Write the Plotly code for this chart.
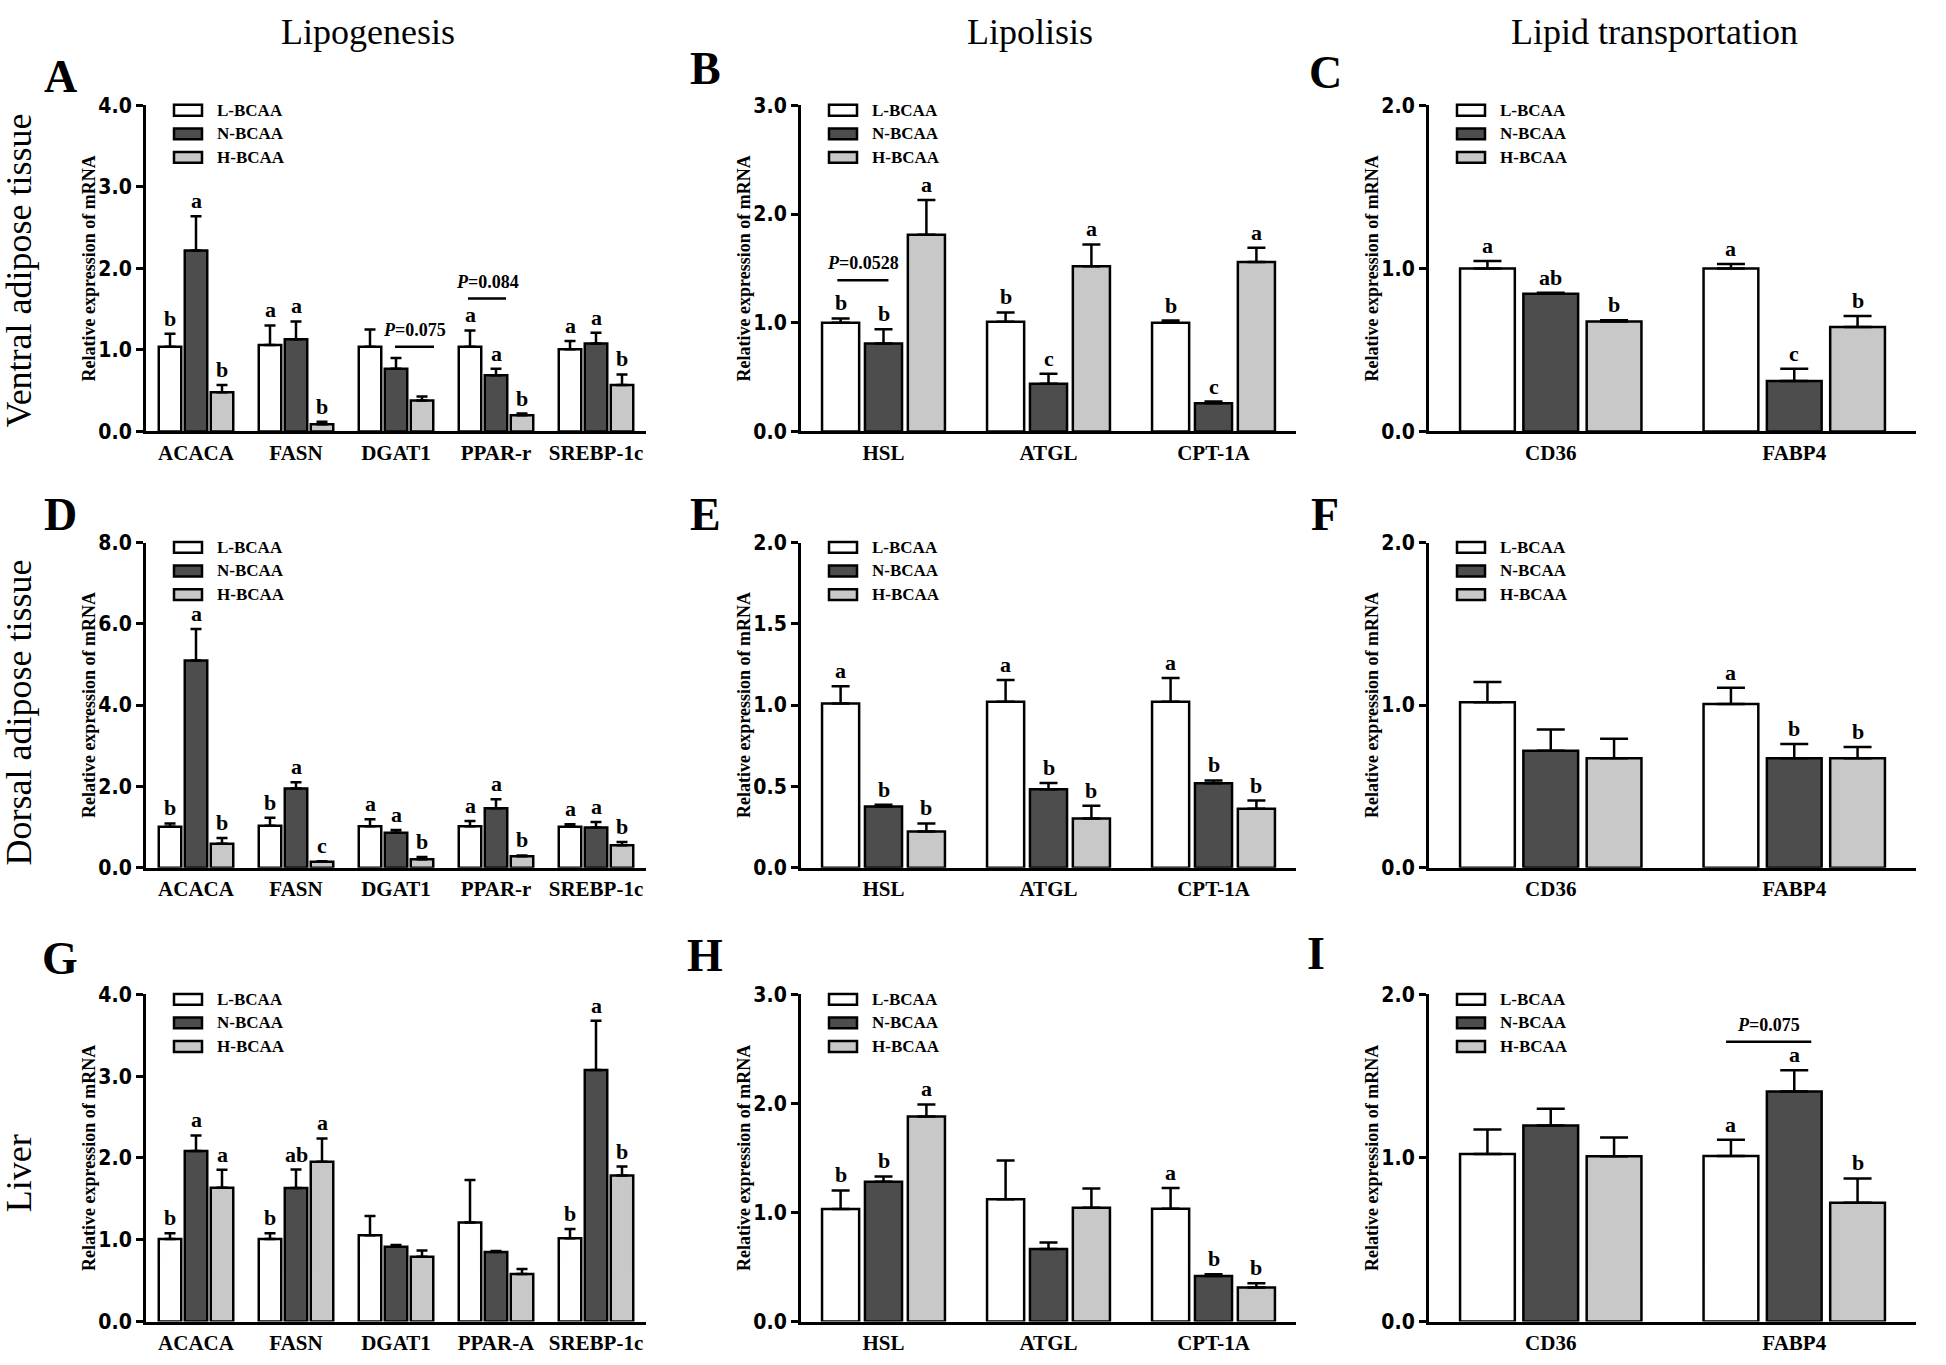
import plotly.graph_objects as go

W, H = 1946, 1365

# ---------------- data ----------------
GROUPS = ["L-BCAA", "N-BCAA", "H-BCAA"]
LIPO_CATS = ["ACACA", "FASN", "DGAT1", "PPAR-r", "SREBP-1c"]
LIVER_LIPO_CATS = ["ACACA", "FASN", "DGAT1", "PPAR-A", "SREBP-1c"]
LIPOL_CATS = ["HSL", "ATGL", "CPT-1A"]
TRANS_CATS = ["CD36", "FABP4"]

A_MEAN = [[1.04, 1.06, 1.04, 1.04, 1.01], [2.22, 1.13, 0.77, 0.69, 1.08], [0.48, 0.09, 0.38, 0.20, 0.57]]
A_SEM = [[0.16, 0.24, 0.21, 0.20, 0.10], [0.42, 0.22, 0.13, 0.08, 0.13], [0.09, 0.03, 0.05, 0.02, 0.13]]
A_SIG = [["b", "a", "", "a", "a"], ["a", "a", "", "a", "a"], ["b", "b", "", "b", "b"]]

B_MEAN = [[1.00, 1.01, 1.00], [0.81, 0.44, 0.26], [1.81, 1.52, 1.56]]
B_SEM = [[0.04, 0.085, 0.02], [0.13, 0.09, 0.015], [0.32, 0.20, 0.13]]
B_SIG = [["b", "b", "b"], ["b", "c", "c"], ["a", "a", "a"]]

C_MEAN = [[1.00, 1.00], [0.845, 0.31], [0.675, 0.64]]
C_SEM = [[0.045, 0.027], [0.005, 0.075], [0.007, 0.068]]
C_SIG = [["a", "a"], ["ab", "c"], ["b", "b"]]

D_MEAN = [[1.01, 1.03, 1.02, 1.02, 1.005], [5.10, 1.95, 0.86, 1.46, 0.99], [0.59, 0.145, 0.21, 0.28, 0.55]]
D_SEM = [[0.08, 0.20, 0.17, 0.13, 0.065], [0.77, 0.15, 0.07, 0.225, 0.135], [0.14, 0.015, 0.055, 0.02, 0.08]]
D_SIG = [["b", "b", "a", "a", "a"], ["a", "a", "a", "a", "a"], ["b", "c", "b", "b", "b"]]

E_MEAN = [[1.01, 1.02, 1.02], [0.377, 0.483, 0.519], [0.222, 0.303, 0.363]]
E_SEM = [[0.106, 0.134, 0.146], [0.01, 0.038, 0.018], [0.05, 0.078, 0.05]]
E_SIG = [["a", "a", "a"], ["b", "b", "b"], ["b", "b", "b"]]

F_MEAN = [[1.017, 1.007], [0.72, 0.673], [0.673, 0.673]]
F_SEM = [[0.125, 0.10], [0.13, 0.087], [0.12, 0.07]]
F_SIG = [["", "a"], ["", "b"], ["", "b"]]

G_MEAN = [[1.01, 1.01, 1.055, 1.21, 1.02], [2.086, 1.633, 0.915, 0.85, 3.077], [1.637, 1.954, 0.794, 0.582, 1.785]]
G_SEM = [[0.07, 0.07, 0.237, 0.52, 0.112], [0.19, 0.225, 0.02, 0.013, 0.60], [0.22, 0.285, 0.076, 0.06, 0.11]]
G_SIG = [["b", "b", "", "", "b"], ["a", "ab", "", "", "a"], ["a", "a", "", "", "b"]]

H_MEAN = [[1.032, 1.122, 1.035], [1.281, 0.666, 0.417], [1.881, 1.044, 0.312]]
H_SEM = [[0.17, 0.354, 0.19], [0.05, 0.06, 0.018], [0.11, 0.177, 0.04]]
H_SIG = [["b", "", "a"], ["b", "", "b"], ["a", "", "b"]]

I_MEAN = [[1.024, 1.012], [1.198, 1.406], [1.01, 0.727]]
I_SEM = [[0.15, 0.10], [0.103, 0.13], [0.115, 0.148]]
I_SIG = [["", "a"], ["", "a"], ["", "b"]]

Y_MAX = {"A": 4, "B": 3, "C": 2, "D": 8, "E": 2, "F": 2, "G": 4, "H": 3, "I": 2}
Y_STEP = {"A": 1, "B": 1, "C": 1, "D": 2, "E": 0.5, "F": 1, "G": 1, "H": 1, "I": 1}

# (panel, category index, line start offset, line end offset, line y, p-value)
P_NOTES = [
    ("A", 2, -0.01, 0.38, 1.04, "0.075"),
    ("A", 3, -0.28, 0.10, 1.63, "0.084"),
    ("B", 0, -0.28, 0.03, 1.39, "0.0528"),
    ("I", 1, -0.28, 0.07, 1.71, "0.075"),
]

COL_TITLES = ["Lipogenesis", "Lipolisis", "Lipid transportation"]
ROW_TITLES = ["Ventral adipose tissue", "Dorsal adipose tissue", "Liver"]
Y_TITLE = "Relative expression of mRNA"

# ---------------- styling / layout ----------------
FILLS = ["#ffffff", "#4d4d4d", "#c8c8c8"]
SERIF = "Liberation Serif, Times New Roman, serif"
SANS = "Liberation Sans Narrow, Arial Narrow, DejaVu Sans Condensed, Liberation Sans, Arial, sans-serif"

COLS = [(146, 646), (801, 1296), (1429, 1916)]
ROWS = [(95, 427), (540, 871), (1000, 1333)]
CAP = [5.5, 9, 14]
BARGAP = 0.22
SLOT = (1 - BARGAP) / 3

PANELS = [
    ("A", LIPO_CATS, A_MEAN, A_SEM, A_SIG),
    ("B", LIPOL_CATS, B_MEAN, B_SEM, B_SIG),
    ("C", TRANS_CATS, C_MEAN, C_SEM, C_SIG),
    ("D", LIPO_CATS, D_MEAN, D_SEM, D_SIG),
    ("E", LIPOL_CATS, E_MEAN, E_SEM, E_SIG),
    ("F", TRANS_CATS, F_MEAN, F_SEM, F_SIG),
    ("G", LIVER_LIPO_CATS, G_MEAN, G_SEM, G_SIG),
    ("H", LIPOL_CATS, H_MEAN, H_SEM, H_SIG),
    ("I", TRANS_CATS, I_MEAN, I_SEM, I_SIG),
]

LETTER_POS = {"A": (60, 66), "B": (705, 58), "C": (1325, 62),
              "D": (60, 512), "E": (705, 512), "F": (1325, 512),
              "G": (60, 963), "H": (705, 960), "I": (1316, 958)}


def fx(px):
    return px / W


def fy(py):
    return 1 - py / H


fig = go.Figure()
layout = dict(
    width=W, height=H, margin=dict(l=0, r=0, t=0, b=0),
    paper_bgcolor="white", plot_bgcolor="white",
    barmode="group", bargap=BARGAP, bargroupgap=0.135,
    showlegend=False,
)
annotations = []
shapes = []

for idx, (name, cats, means, sems, sigs) in enumerate(PANELS):
    r, c = divmod(idx, 3)
    k = idx + 1
    xs = "x" if k == 1 else f"x{k}"
    ys = "y" if k == 1 else f"y{k}"
    x0, x1 = COLS[c]
    y0, y1 = ROWS[r]
    n = len(cats)
    for s in range(3):
        fig.add_trace(go.Bar(
            x=cats, y=means[s], name=GROUPS[s], xaxis=xs, yaxis=ys,
            marker=dict(color=FILLS[s], line=dict(color="black", width=2.5)),
            error_y=dict(type="data", array=sems[s], arrayminus=[0] * n, symmetric=False,
                         color="black", thickness=2.5, width=CAP[c]),
            showlegend=False, hoverinfo="skip",
        ))
        for i in range(n):
            if sigs[s][i]:
                annotations.append(dict(
                    x=i + (s - 1) * SLOT, y=means[s][i] + sems[s][i], xref=xs, yref=ys,
                    text=f"<b>{sigs[s][i]}</b>", showarrow=False, yanchor="bottom", yshift=1,
                    font=dict(family=SERIF, size=22, color="black")))
    ymax = Y_MAX[name]
    step = Y_STEP[name]
    tv = [round(j * step, 3) for j in range(int(round(ymax / step)) + 1)]
    layout["xaxis" if k == 1 else f"xaxis{k}"] = dict(
        domain=[fx(x0), fx(x1)], anchor=ys, type="category", range=[-0.5, n - 0.5],
        showline=True, linecolor="black", linewidth=3, ticks="", showgrid=False, zeroline=False,
        tickfont=dict(family=SERIF, size=21, color="black", weight="bold"), fixedrange=True)
    layout["yaxis" if k == 1 else f"yaxis{k}"] = dict(
        domain=[fy(y1), fy(y0)], anchor=xs, range=[0, ymax], tickvals=tv, tickformat=".1f",
        showline=True, linecolor="black", linewidth=3, ticks="outside", ticklen=7, tickwidth=2.5,
        tickcolor="black", showgrid=False, zeroline=False,
        tickfont=dict(family=SANS, size=21, color="black", weight="bold"), fixedrange=True)
    # y title
    annotations.append(dict(
        x=fx(x0 - 57), y=fy((y0 + y1) / 2), xref="paper", yref="paper", text=f"<b>{Y_TITLE}</b>",
        textangle=-90, showarrow=False, xanchor="center", yanchor="middle",
        font=dict(family=SERIF, size=18, color="black")))
    # legend
    for s in range(3):
        ry = y0 + 5 + 24 * s
        shapes.append(dict(type="rect", xref="paper", yref="paper",
                           x0=fx(x0 + 28), x1=fx(x0 + 56), y0=fy(ry + 5.5), y1=fy(ry - 5.5),
                           fillcolor=FILLS[s], line=dict(color="black", width=2.5)))
        annotations.append(dict(
            x=fx(x0 + 69), y=fy(ry), xref="paper", yref="paper", text=f"<b>{GROUPS[s]}</b>",
            showarrow=False, xanchor="left", yanchor="middle",
            font=dict(family=SERIF, size=17, color="black")))
    # panel letter
    lx, ly = LETTER_POS[name]
    annotations.append(dict(
        x=fx(lx), y=fy(ly), xref="paper", yref="paper", text=f"<b>{name}</b>",
        showarrow=False, xanchor="center", yanchor="middle",
        font=dict(family=SERIF, size=46, color="black")))

# p-value brackets
pidx = {p[0]: i + 1 for i, p in enumerate(PANELS)}
for (name, ci, a, b, ly, pv) in P_NOTES:
    k = pidx[name]
    xs = "x" if k == 1 else f"x{k}"
    ys = "y" if k == 1 else f"y{k}"
    shapes.append(dict(type="line", xref=xs, yref=ys, x0=ci + a, x1=ci + b, y0=ly, y1=ly,
                       line=dict(color="black", width=2.5)))
    annotations.append(dict(
        x=ci + (a + b) / 2, y=ly, xref=xs, yref=ys, text=f"<b><i>P</i>={pv}</b>",
        showarrow=False, yanchor="bottom", yshift=5,
        font=dict(family=SERIF, size=18, color="black")))

# column titles
for c, t in enumerate(COL_TITLES):
    cx = [368, 1030, 1654][c]
    annotations.append(dict(
        x=fx(cx), y=fy(20), xref="paper", yref="paper", text=t, showarrow=False,
        xanchor="center", yanchor="middle", font=dict(family=SERIF, size=36, color="black")))

# row titles
for r, t in enumerate(ROW_TITLES):
    cy = [263, 713, 1182][r]
    annotations.append(dict(
        x=fx(19), y=fy(cy), xref="paper", yref="paper", text=t, showarrow=False, textangle=-90,
        xanchor="center", yanchor="middle", font=dict(family=SERIF, size=36, color="black")))

layout["annotations"] = annotations
layout["shapes"] = shapes
fig.update_layout(**layout)
fig.write_html("out.html", config={"displayModeBar": False},
               post_script="document.body.style.margin='0';")
